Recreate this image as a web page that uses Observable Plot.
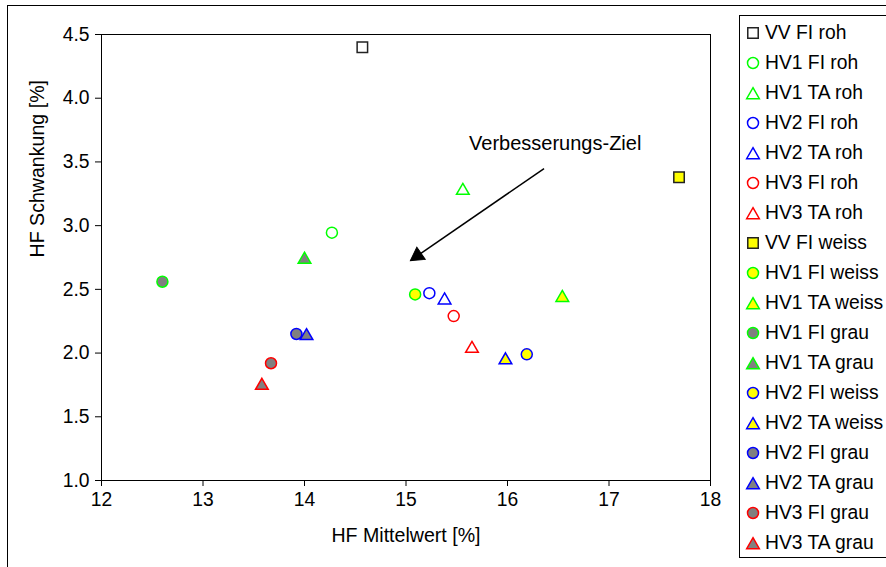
<!DOCTYPE html>
<html><head><meta charset="utf-8">
<script src="https://cdn.jsdelivr.net/npm/d3@7"></script>
<script src="https://cdn.jsdelivr.net/npm/@observablehq/plot@0.6"></script>
<style>
html,body{margin:0;padding:0;background:#fff;overflow:hidden}
#wrap{position:relative;width:886px;height:567px;overflow:hidden;font-family:"Liberation Sans",Arial,sans-serif;background:#fff}
#chart{position:absolute;left:0;top:0}
#border{position:absolute;left:7px;top:5px;width:1000px;height:1000px;border-left:1px solid #000;border-top:1px solid #000;pointer-events:none}
#legend{position:absolute;left:739px;top:15px;width:300px;height:543px;border:1px solid #000;background:#fff;box-sizing:border-box}
.item{position:absolute;left:0;height:30px;line-height:30px;font-size:19.3px;white-space:nowrap;color:#000}
.item svg{position:absolute;left:3px;top:0}
.item span{position:absolute;left:25px;top:0}
</style>
</head><body>
<div id="wrap"><div id="chart"></div><div id="border"></div><div id="legend"></div></div>
<script>
// ---- data ----
const series = ["VV FI roh","HV1 FI roh","HV1 TA roh","HV2 FI roh","HV2 TA roh","HV3 FI roh","HV3 TA roh",
  "VV FI weiss","HV1 FI weiss","HV1 TA weiss","HV1 FI grau","HV1 TA grau","HV2 FI weiss","HV2 TA weiss",
  "HV2 FI grau","HV2 TA grau","HV3 FI grau","HV3 TA grau"];
const xVals = [14.57,14.27,15.56,15.23,15.38,15.47,15.65,17.69,15.09,16.54,12.60,14.00,16.19,15.98,13.92,14.02,13.67,13.58];
const yVals = [4.40,2.945,3.29,2.47,2.43,2.29,2.05,3.38,2.46,2.45,2.56,2.75,1.99,1.96,2.15,2.15,1.92,1.76];
const xTicks = [12,13,14,15,16,17,18];
const yTicks = [1.0,1.5,2.0,2.5,3.0,3.5,4.0,4.5];
const xLabel = "HF Mittelwert [%]";
const yLabel = "HF Schwankung [%]";
const noteText = "Verbesserungs-Ziel";
const notePos = [16.47, 3.64];
const arrowFrom = [16.36, 3.448];
const arrowTo = [15.044, 2.726];

// ---- styles derived from names ----
const groupColor = {VV:"#222222", HV1:"#00ff00", HV2:"#0000ff", HV3:"#ff0000"};
const matFill = {roh:"#ffffff", weiss:"#ffff00", grau:"#808080"};
const symR = {circle:5.5, square:5.9, triangle:4.7};
function styleOf(name){
  const [g,k,m] = name.split(" ");
  const symbol = g === "VV" ? "square" : (k === "FI" ? "circle" : "triangle");
  return {symbol, stroke: groupColor[g], fill: matFill[m], r: symR[symbol], dy: symbol === "triangle" ? 2 : 0};
}

const W = 886, H = 567, mL = 101, mR = 176, mT = 34, mB = 87;
const xDom = [12,18], yDom = [1,4.5];
const kx = (W - mL - mR) / (xDom[1]-xDom[0]);
const ky = (H - mT - mB) / (yDom[1]-yDom[0]);

// arrow geometry (head as rotated filled triangle)
const dxp = (arrowTo[0]-arrowFrom[0])*kx, dyp = -(arrowTo[1]-arrowFrom[1])*ky;
const len = Math.hypot(dxp,dyp), ux = dxp/len, uy = dyp/len;
const headR = 5.5;
const apex = 1.555*headR;
const headC = [arrowTo[0] - apex*ux/kx, arrowTo[1] + apex*uy/ky];
const lineEnd = [arrowTo[0] - 10*ux/kx, arrowTo[1] + 10*uy/ky];
const rot = Math.atan2(dyp,dxp)*180/Math.PI + 90;

const marks = [];
marks.push(Plot.frame({stroke:"#000", strokeWidth:1}));
series.forEach((name,i) => {
  const s = styleOf(name);
  marks.push(Plot.dot([i], {x: j => xVals[j], y: j => yVals[j], symbol: s.symbol, r: s.r, fill: s.fill, stroke: s.stroke, strokeWidth: 1.5, dy: s.dy}));
});
marks.push(Plot.link([0], {x1: arrowFrom[0], y1: arrowFrom[1], x2: lineEnd[0], y2: lineEnd[1], stroke:"#000", strokeWidth:1.5}));
marks.push(Plot.dot([0], {x: headC[0], y: headC[1], symbol:"triangle", r: headR, fill:"#000", stroke:"#000", strokeWidth:1, rotate: rot}));
marks.push(Plot.text([noteText], {x: notePos[0], y: notePos[1], text: d => d, fontSize: 20, fill:"#000", textAnchor:"middle"}));
marks.push(Plot.text([xLabel], {frameAnchor:"bottom", dy: 61, text: d => d, fontSize: 19.6, fill:"#000"}));
marks.push(Plot.text([yLabel], {frameAnchor:"left", dx: -64, rotate: -90, text: d => d, fontSize: 19.6, fill:"#000"}));

const plot = Plot.plot({
  width: W, height: H, marginLeft: mL, marginRight: mR, marginTop: mT, marginBottom: mB,
  style: {fontFamily: '"Liberation Sans", Arial, sans-serif', fontSize: "19.3px", background: "transparent", color: "#000", overflow: "visible"},
  x: {domain: xDom, ticks: xTicks, tickSize: 6, tickPadding: 6, label: null, tickFormat: d3.format("d")},
  y: {domain: yDom, ticks: yTicks, tickSize: 6, tickPadding: 6, label: null, tickFormat: d3.format(".1f")},
  marks
});
document.getElementById("chart").appendChild(plot);

// ---- legend ----
const leg = d3.select("#legend");
const symMap = {circle: d3.symbolCircle, square: d3.symbolSquare, triangle: d3.symbolTriangle};
series.forEach((name,i) => {
  const s = styleOf(name);
  const item = leg.append("div").attr("class","item").style("top", (2 + 30*i) + "px");
  const svg = item.append("svg").attr("width",20).attr("height",30);
  svg.append("path")
    .attr("transform", `translate(10,${15 + s.dy})`)
    .attr("d", d3.symbol(symMap[s.symbol], Math.PI*s.r*s.r)())
    .attr("fill", s.fill).attr("stroke", s.stroke).attr("stroke-width", 1.5);
  item.append("span").text(name);
});
</script>
</body></html>
